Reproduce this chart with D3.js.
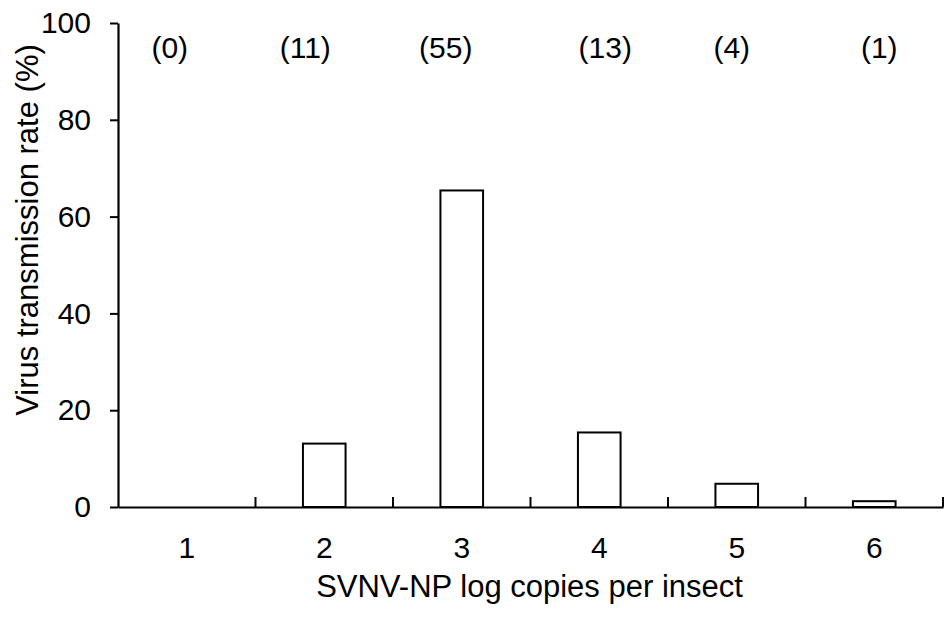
<!DOCTYPE html>
<html>
<head>
<meta charset="utf-8">
<script src="https://cdn.jsdelivr.net/npm/d3@7"></script>
<style>
  body { margin: 0; background: white; }
  text { font-family: "Liberation Sans", Arial, sans-serif; fill: black; }
</style>
</head>
<body>
<div id="chart"></div>
<script>
// data
let categories = ["1", "2", "3", "4", "5", "6"];
let rates = [0, 13.1, 65.4, 15.4, 4.8, 1.2];
let counts = ["(0)", "(11)", "(55)", "(13)", "(4)", "(1)"];
let yTicks = [0, 20, 40, 60, 80, 100];

// layout: the count labels in the original are not quite centred on their bars
let countShift = [-17, -19, -16, 6, -5, 5];

let margin = { top: 23, left: 118, right: 7, bottom: 113 },
  width = 950 - margin.left - margin.right,
  height = 620 - margin.top - margin.bottom;

let svg = d3.select('#chart')
  .append('svg')
  .attr('width', 950)
  .attr('height', 620);

let g = svg.append('g')
  .attr('transform', 'translate(' + margin.left + ',' + margin.top + ')');

// band scale, no padding: ticks sit on band edges
let x = d3.scaleBand().domain(categories).range([0, width]).padding(0),
  y = d3.scaleLinear().domain([0, 100]).range([height, 0]);

let barFrac = 0.31;
let barW = x.bandwidth() * barFrac;

// bars
g.selectAll('.bar')
  .data(categories)
  .enter().append('rect')
  .attr('class', 'bar')
  .attr('x', function(d) { return x(d) + (x.bandwidth() - barW) / 2; })
  .attr('width', barW)
  .attr('y', function(d, i) { return y(rates[i]); })
  .attr('height', function(d, i) { return height - y(rates[i]); })
  .attr('fill', 'white')
  .attr('stroke', 'black')
  .attr('stroke-width', 2);

// x axis: labels at band centres, no ticks there
let xAxis = g.append('g')
  .attr('transform', 'translate(0,' + height + ')')
  .call(d3.axisBottom(x).tickSize(0).tickPadding(30));
xAxis.select('.domain').attr('stroke-width', 2.2);
xAxis.selectAll('text').style('font-size', '30px');

// inner ticks at band edges
xAxis.selectAll('.edge')
  .data(categories)
  .enter().append('line')
  .attr('class', 'edge')
  .attr('x1', function(d) { return x(d) + x.bandwidth(); })
  .attr('x2', function(d) { return x(d) + x.bandwidth(); })
  .attr('y1', 0)
  .attr('y2', -10)
  .attr('stroke', 'black')
  .attr('stroke-width', 2);

// y axis
let yAxis = g.append('g')
  .call(d3.axisLeft(y).tickValues(yTicks).tickSize(8).tickSizeOuter(0).tickPadding(19));
yAxis.select('.domain').attr('stroke-width', 2.2);
yAxis.selectAll('.tick line').attr('stroke-width', 2);
yAxis.selectAll('text').style('font-size', '30px');

// sample counts along the top
g.selectAll('.count')
  .data(categories)
  .enter().append('text')
  .attr('class', 'count')
  .attr('x', function(d, i) { return x(d) + x.bandwidth() / 2 + countShift[i]; })
  .attr('y', 58 - margin.top)
  .attr('text-anchor', 'middle')
  .style('font-size', '30px')
  .text(function(d, i) { return counts[i]; });

// axis titles
svg.append('text')
  .attr('x', margin.left + width / 2 - 1)
  .attr('y', 597)
  .attr('text-anchor', 'middle')
  .style('font-size', '31px')
  .text('SVNV-NP log copies per insect');

svg.append('text')
  .attr('transform', 'translate(38,230) rotate(-90)')
  .attr('text-anchor', 'middle')
  .style('font-size', '31px')
  .text('Virus transmission rate (%)');
</script>
</body>
</html>
